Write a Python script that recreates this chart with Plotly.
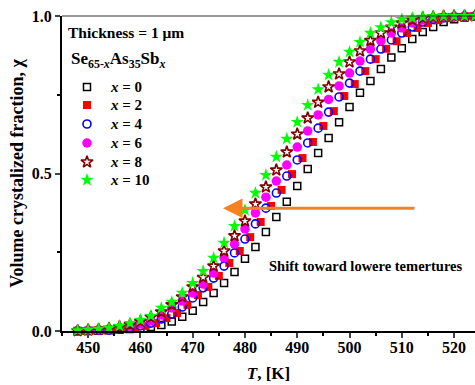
import plotly.graph_objects as go

# Temperatures (K)
T_even = [448, 450, 452, 454, 456, 458, 460, 462, 464, 466, 468, 470, 472, 474, 476,
          478, 480, 482, 484, 486, 488, 490, 492, 494, 496, 498, 500, 502, 504, 506,
          508, 510, 512, 514, 516, 518, 520, 522, 524]
T_odd = [449, 451, 453, 455, 457, 459, 461, 463, 465, 467, 469, 471, 473, 475, 477,
         479, 481, 483, 485, 487, 489, 491, 493, 495, 497, 499, 501, 503, 505, 507,
         509, 511, 513, 515, 517, 519, 521, 523]

chi_x0 = [0.000, 0.000, 0.001, 0.002, 0.004, 0.006, 0.009, 0.013, 0.019, 0.030, 0.045,
          0.064, 0.092, 0.121, 0.152, 0.187, 0.229, 0.267, 0.314, 0.362, 0.410, 0.460,
          0.514, 0.565, 0.613, 0.663, 0.711, 0.756, 0.794, 0.832, 0.868, 0.898, 0.927,
          0.949, 0.965, 0.981, 0.990, 0.995, 0.998]
chi_x2 = [0.000, 0.001, 0.002, 0.003, 0.006, 0.010, 0.016, 0.025, 0.041, 0.057, 0.083,
          0.114, 0.140, 0.175, 0.216, 0.254, 0.298, 0.346, 0.397, 0.448, 0.498, 0.549,
          0.600, 0.651, 0.698, 0.746, 0.784, 0.825, 0.863, 0.896, 0.920, 0.946, 0.962,
          0.978, 0.987, 0.993, 0.997, 0.999]
chi_x4 = [0.000, 0.001, 0.002, 0.003, 0.006, 0.010, 0.016, 0.025, 0.038, 0.054, 0.076,
          0.105, 0.137, 0.168, 0.206, 0.248, 0.292, 0.340, 0.390, 0.438, 0.492, 0.543,
          0.597, 0.644, 0.695, 0.743, 0.787, 0.825, 0.863, 0.895, 0.924, 0.946, 0.965,
          0.981, 0.990, 0.994, 0.997, 0.999, 1.000]
chi_x6 = [0.001, 0.002, 0.004, 0.006, 0.010, 0.015, 0.022, 0.032, 0.051, 0.073, 0.095,
          0.121, 0.149, 0.184, 0.232, 0.276, 0.324, 0.375, 0.425, 0.476, 0.527, 0.584,
          0.635, 0.686, 0.735, 0.778, 0.819, 0.857, 0.895, 0.921, 0.946, 0.962, 0.978,
          0.987, 0.994, 0.997, 0.999, 1.000, 1.000]
chi_x8 = [0.001, 0.003, 0.005, 0.008, 0.013, 0.020, 0.030, 0.044, 0.060, 0.083, 0.108,
          0.140, 0.170, 0.206, 0.254, 0.302, 0.349, 0.403, 0.457, 0.511, 0.568, 0.625,
          0.676, 0.726, 0.775, 0.816, 0.854, 0.889, 0.922, 0.946, 0.964, 0.978, 0.987,
          0.994, 0.997, 0.999, 1.000, 1.000, 1.000]
chi_x10 = [0.002, 0.004, 0.007, 0.010, 0.016, 0.025, 0.035, 0.048, 0.073, 0.092, 0.121,
           0.152, 0.190, 0.232, 0.280, 0.333, 0.384, 0.438, 0.495, 0.553, 0.610, 0.663,
           0.717, 0.767, 0.813, 0.854, 0.886, 0.917, 0.946, 0.964, 0.980, 0.990, 0.994,
           0.997, 0.999, 1.000, 1.000, 1.000, 1.000]

labels = ["<i>x</i> = 0", "<i>x</i> = 2", "<i>x</i> = 4", "<i>x</i> = 6", "<i>x</i> = 8", "<i>x</i> = 10"]
x_ticks = [450, 460, 470, 480, 490, 500, 510, 520]
y_ticks = [0.0, 0.5, 1.0]
y_tick_text = ["0.0", "0.5", "1.0"]

FONT = "Liberation Serif"

markers = [
    dict(symbol="square-open", size=7, color="#000000", line=dict(width=1.5, color="#000000")),
    dict(symbol="square", size=8, color="#ff0000", line=dict(width=0)),
    dict(symbol="circle-open", size=8, color="#0000ff", line=dict(width=1.6, color="#0000ff")),
    dict(symbol="circle", size=9.5, color="#ff00ff", line=dict(width=0)),
    dict(symbol="star-open", size=9, color="#800000", line=dict(width=1.6, color="#800000")),
    dict(symbol="star", size=10, color="#00ff00", line=dict(width=0)),
]
xs_list = [T_even, T_odd, T_even, T_even, T_even, T_even]
ys_list = [chi_x0, chi_x2, chi_x4, chi_x6, chi_x8, chi_x10]

fig = go.Figure()
for xs, ys, name, mk in zip(xs_list, ys_list, labels, markers):
    fig.add_trace(go.Scatter(x=xs, y=ys, mode="markers", name=name, marker=mk,
                             cliponaxis=False, showlegend=False))

# Hand-made legend (placed in paper-fraction coordinates on an overlay axis)
leg_x_marker = 0.0605
leg_x_text = 0.1114
leg_rows = [0.7746, 0.7175, 0.6571, 0.5968, 0.5365, 0.4794]
for i, (name, mk) in enumerate(zip(labels, markers)):
    fig.add_trace(go.Scatter(x=[leg_x_marker], y=[leg_rows[i]], mode="markers", marker=mk,
                             xaxis="x2", yaxis="y2", showlegend=False, hoverinfo="skip",
                             cliponaxis=False))
    fig.add_annotation(text=name, xref="paper", yref="paper", x=leg_x_text, y=leg_rows[i],
                       xanchor="left", yanchor="middle", showarrow=False,
                       font=dict(family=FONT, size=15, color="black", weight="bold"))

fig.update_layout(
    width=475, height=385,
    margin=dict(l=62, r=0, t=16, b=54),
    paper_bgcolor="white", plot_bgcolor="white",
    font=dict(family=FONT, size=14, color="black"),
    showlegend=False,
    xaxis=dict(
        range=[445, 524], tickvals=x_ticks, ticks="outside", ticklen=5, tickwidth=2,
        showline=True, linecolor="black", linewidth=2, mirror=False,
        showgrid=False, zeroline=False, ticklabelstandoff=-4,
        tickfont=dict(family=FONT, size=16, weight="bold"),
        minor=dict(dtick=5, ticks="outside", ticklen=3, tickwidth=2, tickcolor="black", showgrid=False),
        title=dict(text="<i>T</i>, [K]", font=dict(family=FONT, size=17, weight="bold"), standoff=12),
    ),
    yaxis=dict(
        range=[0, 1.0], tickvals=y_ticks, ticktext=y_tick_text, ticks="outside", ticklen=5,
        tickwidth=2, showline=True, linecolor="black", linewidth=2,
        showgrid=False, zeroline=False,
        tickfont=dict(family=FONT, size=16, weight="bold"),
        minor=dict(tickvals=[0.25, 0.75], ticks="outside", ticklen=3, tickwidth=2, tickcolor="black", showgrid=False),
        title=dict(text="Volume crystalized fraction, χ", font=dict(family=FONT, size=18, weight="bold"), standoff=3),
    ),
    xaxis2=dict(overlaying="x", range=[0, 1], visible=False, fixedrange=True),
    yaxis2=dict(overlaying="y", range=[0, 1], visible=False, fixedrange=True),
)

# top frame line
fig.add_shape(type="line", xref="paper", yref="paper", x0=0, x1=1, y0=1, y1=1,
              line=dict(color="#333333", width=1.2))

fig.add_annotation(text="Thickness = 1 μm", xref="paper", yref="paper", x=0.0097, y=0.949,
                   xanchor="left", yanchor="middle", showarrow=False,
                   font=dict(family=FONT, size=15.5, color="black", weight="bold"))
fig.add_annotation(text="Se<sub>65-<i>x</i></sub>As<sub>35</sub>Sb<sub><i>x</i></sub>",
                   xref="paper", yref="paper", x=0.0169, y=0.86,
                   xanchor="left", yanchor="middle", showarrow=False,
                   font=dict(family=FONT, size=17, color="black", weight="bold"))

fig.add_annotation(text="Shift toward lowere temertures", xref="x", yref="y", x=484.2, y=0.205,
                   xanchor="left", yanchor="middle", showarrow=False,
                   font=dict(family=FONT, size=14.5, color="black", weight="bold"))

fig.add_annotation(x=475.8, y=0.39, ax=512.7, ay=0.39, xref="x", yref="y", axref="x", ayref="y",
                   text="", showarrow=True, arrowhead=2, arrowsize=1.3, arrowwidth=3,
                   arrowcolor="#f58220")

fig.write_html("out.html")
